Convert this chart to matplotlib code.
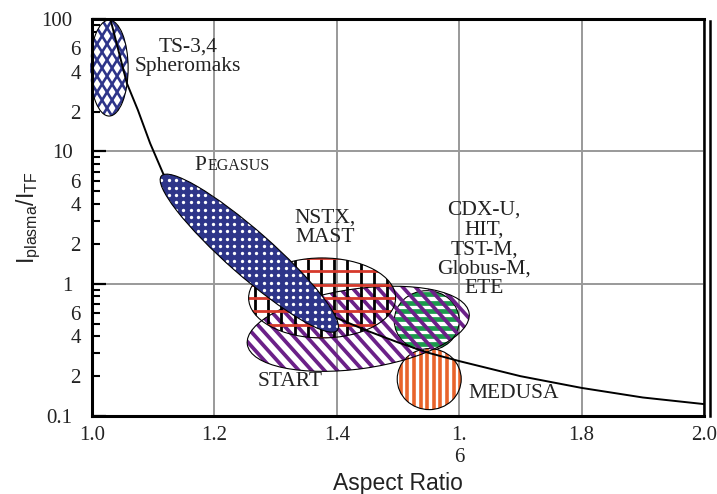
import numpy as np
import matplotlib
matplotlib.use('Agg')
import matplotlib.pyplot as plt
from matplotlib.patches import Ellipse
from matplotlib.collections import LineCollection
from matplotlib.transforms import ScaledTranslation

''' ---------- data read off the figure ---------- '''
# boundary curve  I_plasma/I_TF  vs aspect ratio
aspect = [1.030, 1.057, 1.075, 1.095, 1.119, 1.16, 1.20, 1.25, 1.30, 1.35,
          1.40, 1.45, 1.50, 1.55, 1.60, 1.70, 1.80, 1.90, 2.00]
ratio = [100, 32.7, 20.5, 11.5, 6.35, 4.3, 2.82, 1.74, 1.12, 0.76,
         0.55, 0.44, 0.36, 0.30, 0.26, 0.20, 0.163, 0.138, 0.123]

# operating regions (centre aspect ratio, centre current ratio)
dev_names = ['TS', 'MEDUSA', 'CDX', 'START', 'NSTX', 'PEGASUS']
dev_ar = [1.028, 1.551, 1.547, 1.435, 1.376, 1.257]
dev_ip = [42.6, 0.19, 0.525, 0.456, 0.78, 1.70]

x_ticks = [1.0, 1.2, 1.4, 1.6, 1.8, 2.0]
x_ticklabels = ['1.0', '1.2', '1.4', '1.\n6', '1.8', '2.0']
y_major = [0.1, 1, 10, 100]
y_major_labels = ['0.1', '1', '10', '100']
y_minor = [m * d for d in [0.1, 1, 10] for m in range(2, 10)]
y_minor_labels = [str(m) if m in (2, 4, 6) else '' for d in [0.1, 1, 10] for m in range(2, 10)]

''' ---------- style ---------- '''
dpi = 100
serif = 'Liberation Serif'
sans = 'Liberation Sans'
blue, red, purple, green, orange = '#2e3589', '#d6392b', '#6b2088', '#1b9a4c', '#e8632b'
plt.rcParams['mathtext.fontset'] = 'custom'
plt.rcParams['mathtext.rm'] = sans
plt.rcParams['mathtext.it'] = sans

fig = plt.figure(figsize=(7.17, 4.94), dpi=dpi)
ax = fig.add_axes([0.1283, 0.1579, 0.8536, 0.8036])
ax.set_yscale('log')
ax.set_xlim(1.0, 2.0)
ax.set_ylim(0.1, 100)


def blob(i, w, h, ang, face, z):
    # ellipse sized in pixels, centred on a data point
    tr = fig.dpi_scale_trans + ScaledTranslation(dev_ar[i], dev_ip[i], ax.transData)
    e = Ellipse((0, 0), w / dpi, h / dpi, angle=ang, transform=tr,
                facecolor=face, edgecolor='none', zorder=z)
    ax.add_patch(e)
    edge = Ellipse((0, 0), w / dpi, h / dpi, angle=ang, transform=tr,
                   facecolor='none', edgecolor='black', lw=0.8, zorder=z + 0.05)
    ax.add_patch(edge)
    return e, tr, max(w, h)


def stripes(blob_out, theta, spacing, lw, color, z, offset=0.0):
    e, tr, R = blob_out
    d = np.array([np.cos(np.radians(theta)), np.sin(np.radians(theta))])
    n = np.array([-d[1], d[0]])
    segs = []
    for s in np.arange(-R, R + spacing, spacing) + offset:
        segs.append([s * n - R * d, s * n + R * d])
    lc = LineCollection(np.array(segs) / dpi, colors=color, linewidths=lw,
                        transform=tr, zorder=z)
    lc.set_clip_path(e)
    ax.add_collection(lc, autolim=False)


# CDX-U etc (green)
b = blob(2, 65, 60, 0, 'white', 2.0)
stripes(b, 0, 8.3, 3.4, green, 2.02)
# MEDUSA (orange)
b = blob(1, 64, 61, 0, 'white', 2.1)
stripes(b, 90, 6.6, 2.6, orange, 2.12)
# START (purple)
b = blob(3, 224, 80, 8, 'none', 2.2)
stripes(b, -48, 9.5, 2.7, purple, 2.22)
# NSTX, MAST
b = blob(4, 147, 80, 0, 'none', 2.3)
stripes(b, 90, 13.2, 2.0, 'black', 2.32, 3)
stripes(b, 0, 13.4, 2.0, red, 2.34, -0.5)
# TS-3,4
b = blob(0, 38, 96, 0, 'white', 2.4)
stripes(b, 58, 8.5, 1.9, blue, 2.42)
stripes(b, 122, 8.5, 1.9, blue, 2.42)

# boundary curve
ax.plot(aspect, ratio, color='black', lw=1.4, zorder=3)

# PEGASUS: blue with white dots
e, tr, R = blob(5, 234, 45, -41.3, blue, 4)
g = np.arange(-R / 2, R / 2, 7.3)
gx, gy = np.meshgrid(g, g)
dots, = ax.plot(gx.ravel() / dpi, gy.ravel() / dpi, 'o', color='white', ms=2.4,
                mew=0, transform=tr, zorder=4.02)
dots.set_clip_path(e)

# labels
tk = dict(family=serif, fontsize=15.5, color='#222222', ha='center', va='center',
          linespacing=1.05, zorder=5)
ax.text(1.157, 52.0, 'TS-3,4\nSpheromaks', **tk)
ax.text(1.168, 7.2, 'P', family=serif, fontsize=15.5, color='#222222', ha='left', va='baseline')
ax.text(1.1885, 7.2, 'EGASUS', family=serif, fontsize=11.5, color='#222222', ha='left', va='baseline')
ax.text(1.381, 2.63, 'NSTX,\nMAST', **tk)
ax.text(1.6405, 1.81, 'CDX-U,\nHIT,\nTST-M,\nGlobus-M,\nETE', **tk)
ax.text(1.3235, 0.181, 'START', **tk)
ax.text(1.6895, 0.147, 'MEDUSA', **tk)

# axes styling
ax.set_xticks(x_ticks, labels=x_ticklabels)
ax.set_yticks(y_major, labels=y_major_labels)
ax.set_yticks(y_minor, labels=y_minor_labels, minor=True)
ax.tick_params(axis='x', length=0, pad=7, labelsize=15)
ax.tick_params(axis='y', which='major', direction='in', length=10, width=1.6, pad=14, labelsize=15)
ax.tick_params(axis='y', which='minor', direction='in', length=5.8, width=1.5, pad=8, labelsize=15)
for lab in ax.get_xticklabels() + ax.get_yticklabels() + ax.get_yticklabels(minor=True):
    lab.set_family(serif)
    lab.set_color('#222222')

ax.grid(True, which='major', color='#999999', lw=1.4)
ax.set_axisbelow(True)
for s in ax.spines.values():
    s.set_linewidth(2.2)
ax.spines['right'].set_linewidth(1.8)
ax.plot([1.009, 1.009], [0, 0.995], transform=ax.transAxes, color='black', lw=1.8, clip_on=False)

ax.set_xlabel('Aspect Ratio', family=sans, fontsize=16.5, color='#222222', labelpad=4)
ax.set_ylabel(r'$\mathrm{I}_{\mathrm{plasma}}/\mathrm{I}_{\mathrm{TF}}$', fontsize=16.5, color='#222222')
ax.yaxis.set_label_coords(-0.08, 0.5)

fig.savefig('out.png', dpi=dpi)
